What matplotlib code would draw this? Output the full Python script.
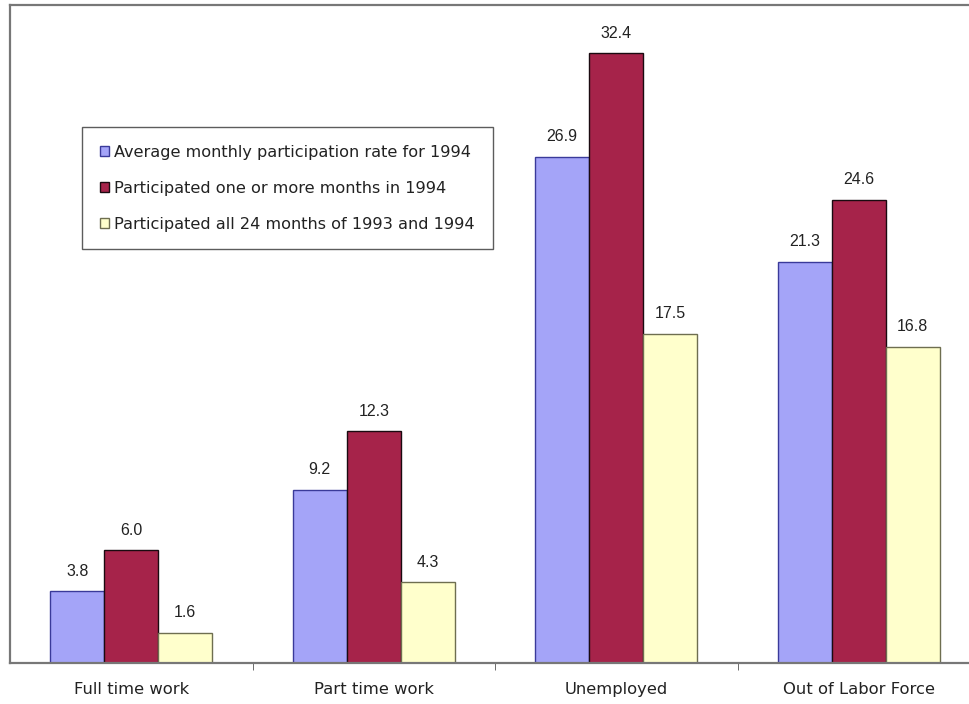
import numpy as np
import matplotlib.pyplot as plt

categories = ['Full time work', 'Part time work', 'Unemployed', 'Out of Labor Force']
series_names = [
    'Average monthly participation rate for 1994',
    'Participated one or more months in 1994',
    'Participated all 24 months of 1993 and 1994',
]
avg_monthly = [3.8, 9.2, 26.9, 21.3]
one_or_more = [6.0, 12.3, 32.4, 24.6]
all_24 = [1.6, 4.3, 17.5, 16.8]

colors = ['#A4A4F8', '#A6234A', '#FFFFCC']
edges = ['#3A3A9A', '#1A0A10', '#6E6E50']

plt.rcParams['font.family'] = ['Liberation Sans', 'DejaVu Sans']
wide_font = ['DejaVu Sans']

fig = plt.figure(figsize=(9.69, 7.04), dpi=100)
# axes extends slightly past the right edge, like the original screenshot
ax = fig.add_axes([10 / 969, 1 - 663 / 704, 970 / 969, 658 / 704])

x = np.arange(len(categories))
w = 0.223
for i, (vals, name) in enumerate(zip([avg_monthly, one_or_more, all_24], series_names)):
    pos = x + (i - 1) * w
    bars = ax.bar(pos, vals, width=w, color=colors[i], edgecolor=edges[i],
                  linewidth=1.0, label=name)
    for b, v in zip(bars, vals):
        ax.annotate(f'{v:.1f}', (b.get_x() + b.get_width() / 2, v),
                    xytext=(0, 9), textcoords='offset points',
                    ha='center', va='bottom', fontsize=11.5, color='#222222')

ax.set_xlim(-0.5, len(categories) - 0.5)
ax.set_ylim(0, 34.95)
ax.set_yticks([])
ax.set_xticks(x)
ax.set_xticklabels(categories, fontsize=11.8, color='#222222', family=wide_font)
ax.tick_params(axis='x', length=0, pad=14)
ax.set_xticks(x[:-1] + 0.5, minor=True)
ax.tick_params(axis='x', which='minor', length=5, color='#555555', direction='out')

for s in ['left', 'top', 'bottom']:
    ax.spines[s].set_color('#777777')
    ax.spines[s].set_linewidth(1.6)
ax.spines['right'].set_visible(False)

leg = ax.legend(loc='upper left', bbox_to_anchor=((82 - 10) / 970, 1 - (127 - 5) / 658),
                borderaxespad=0, fancybox=False, frameon=True,
                prop={'family': wide_font, 'size': 11.6},
                handlelength=0.6, handleheight=0.6, handletextpad=0.3,
                labelspacing=1.3, borderpad=1.1)
leg.get_frame().set_edgecolor('#333333')
leg.get_frame().set_linewidth(1.0)
for t in leg.get_texts():
    t.set_color('#222222')

fig.savefig('out.png', dpi=100)
